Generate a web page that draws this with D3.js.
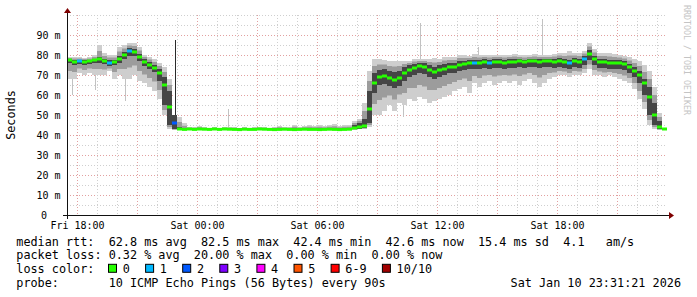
<!DOCTYPE html>
<html>
<head>
<meta charset="utf-8">
<script src="https://cdn.jsdelivr.net/npm/d3@7"></script>
<style>
  body { margin: 0; background: #fff; }
  text { font-family: "DejaVu Sans Mono", monospace; white-space: pre; }
</style>
</head>
<body>
<svg id="chart" width="697" height="297"></svg>
<script>
// median rtt per 15 min step (ms), from Fri 17:31 to Sat 23:31
var med = [77.5,76.5,77,76.5,77,77.5,78,77,76,76.5,
           78,80,82,81.5,79,76.5,75,73.5,71,65,
           54,46,43,42.8,43,42.8,43,42.9,42.8,43,
           42.8,43,42.9,42.8,42.7,42.9,42.8,42.8,43,42.9,
           42.8,42.7,42.8,42.9,42.8,42.7,42.8,42.9,42.8,42.8,
           42.7,42.8,42.9,42.8,42.7,42.8,42.9,43.5,44,44.5,
           53,66,69,69.5,68.5,67.5,68.5,71,72.5,73.5,
           74.5,74,72.5,71.5,72.5,73,74,74,75,75.5,
           76,76,76,76.5,76,76.5,76.5,76,76.5,76.5,
           77,76.5,77,77,76.5,77,77,76.5,77,76.5,
           76,77,76.5,78,80.5,78,76.5,76.5,76,76,
           76,75.5,74,72,70,66,59,50,44,43];

// smoke: slowest / fastest ping per step
var hi = [79,79,79,78.5,79,80,85,81,80,80,
          84,85,86,86,84,80,79,78,76,74,
          68,48,49,46,44,44,44.5,44,43.5,44,
          43.5,44,44,44,43.5,44,43.5,44,44,44,
          43.5,44,44.5,44,44,45,44,44.5,45,44.5,
          45,44.5,45,45.5,44.5,45,45,47,48,56,
          72,78,78,77.5,77,77,77,77,77,78,
          78,78,78,78.5,78,79,79,79,80,80,
          79.5,80.5,80,80,80,80,80,80,80,80.5,
          80,80,80,80.5,80,80,80,80.5,81,81,
          82,81,81,82,86,83,81,81,81,80.5,
          80,79.5,79,78,77,75,72,64,51,43.5];
var lo = [68,68,71,70,71,70,70,70,72,68,
          70,68,68,70,67,66,64,62,58,50,
          43,42.5,42.5,42.5,42.5,42.5,42.5,42.5,42.5,42.5,
          42.5,42.5,42.5,42.5,42.5,42.5,42.5,42.5,42.5,42.5,
          42.5,42.5,42.5,42.5,42.5,42.5,42.5,42.5,42.5,42.5,
          42.5,42.5,42.5,42.5,42.5,42.5,42.5,42.5,43,43,
          44,50,50,52,55,52,56,55,58,57,
          59,58,56,57,58,59,60,62,63,64,
          61,66,64,66,67,65,66,67,66,67,
          65,67,68,66,64,66,68,69,70,70,
          69,70,70,71,73,70,70,69,70,69,
          68,67,66,63,58,53,45,43,42.5,42.5];

// dense core of the smoke
var coreHi = [78,77.5,77.5,77.5,77.5,78,79,78,77.5,77.5,
              79.5,81.5,83.5,83,80.5,78,76.5,75,73,69,
              62,50,44,43.2,43.2,43.2,43.3,43.2,43.2,43.2,
              43.2,43.3,43.2,43.2,43.2,43.3,43.2,43.2,43.3,43.2,
              43.2,43.2,43.3,43.2,43.2,43.2,43.3,43.2,43.2,43.3,
              43.2,43.2,43.3,43.2,43.2,43.2,43.3,45,46,48,
              62,71,72.5,73,72,71.5,72,74,75,75.5,
              76,76,75,74,75,75.5,76,76,77,77,
              77.5,77.5,77.5,78,77.5,78,78,77.5,78,78,
              78,77.5,78,78,78,78,78,78,78.5,78,
              77.5,78.5,78,79.5,82.5,79.5,78,78,77.5,77.5,
              77.5,77,75.5,74,72,68,64,56,47,43.3];
var coreLo = [76,75,75.5,75,75.5,76,76,75.5,74.5,75,
              76,78,79.5,79.5,77,74.5,73,71.5,67,55,
              45,43,42.6,42.6,42.6,42.6,42.6,42.6,42.6,42.6,
              42.6,42.6,42.6,42.6,42.6,42.6,42.6,42.6,42.6,42.6,
              42.6,42.6,42.6,42.6,42.6,42.6,42.6,42.6,42.6,42.6,
              42.6,42.6,42.6,42.6,42.6,42.6,42.6,43,43,43.5,
              46,61,65,65.5,64.5,63.5,64.5,67,69,70,
              71,70.5,69,68,69,70,71,71,72,72.5,
              73,73,73,73.5,73,73.5,73.5,73,73.5,73.5,
              74,73.5,74,74,73.5,74,74,73.5,74,73.5,
              73,74,73.5,75,77.5,75,73.5,73.5,73,73,
              73,72.5,71,69,66,60,50,45,43,42.6];

// lost pings (of 10) per step
var loss = [0,0,1,0,0,0,0,0,1,0,
            0,0,1,0,0,0,0,0,0,0,
            0,2,0,0,0,0,0,0,0,0,
            0,0,0,0,0,0,0,0,0,0,
            0,0,0,0,0,0,0,0,0,0,
            0,0,0,0,0,0,0,0,0,0,
            0,0,0,0,0,0,0,0,0,0,
            0,0,0,0,0,0,0,0,0,0,
            0,1,0,0,1,0,0,0,0,0,
            0,0,0,0,0,0,0,0,0,0,
            1,0,0,1,0,0,0,0,0,0,
            0,0,0,0,0,0,0,0,0,0];

// single outlier pings
var outlierTimes = ["2026-01-09T17:46","2026-01-09T18:55","2026-01-09T20:25","2026-01-10T01:34",
                    "2026-01-10T10:19","2026-01-10T11:10","2026-01-10T14:04","2026-01-10T17:17"];
var outlierVals = [60, 62.5, 57, 53, 49, 96, 84, 98];
var darkTimes = ["2026-01-09T22:56"];
var darkVals = [87.5];

var lossLabels = ["0","1","2","3","4","5","6-9","10/10"];
var lossColors = ["#26ff00","#00b8ff","#0059ff","#7e00ff","#ff00ff","#ff5500","#ff0000","#a10000"];

var legendLines = [
    "median rtt:  62.8 ms avg  82.5 ms max  42.4 ms min  42.6 ms now  15.4 ms sd  4.1   am/s",
    "packet loss: 0.32 % avg  20.00 % max  0.00 % min  0.00 % now",
    "loss color:",
    "probe:       10 ICMP Echo Pings (56 Bytes) every 90s"
];
var stampText = "Sat Jan 10 23:31:21 2026";

var svg = d3.select("#chart");
var X0 = 67, X1 = 667, Y0 = 215, Y1 = 15;

var t0 = new Date(2026, 0, 9, 17, 31, 21);
var t1 = new Date(2026, 0, 10, 23, 31, 21);
var STEP = 15 * 60 * 1000;

var x = d3.scaleTime().domain([t0, t1]).range([X0, X1]);
var y = d3.scaleLinear().domain([0, 100]).range([Y0, Y1]);

var times = d3.range(med.length + 1).map(function(i) { return new Date(+t0 + i * STEP); });
var idx = d3.range(med.length);
var parse = d3.timeParse("%Y-%m-%dT%H:%M");

function lossIndex(n) { return n <= 5 ? n : (n < 10 ? 6 : 7); }

// grid
var grid = svg.append("g");
y.ticks(20).filter(function(v) { return v > 0; }).forEach(function(v) {
    var major = v % 10 === 0 && v < 100;
    grid.append("line")
        .attr("x1", X0).attr("x2", X1)
        .attr("y1", y(v) + 0.5).attr("y2", y(v) + 0.5)
        .attr("stroke", major ? "#e2a0a0" : "#cfcfcf")
        .attr("stroke-dasharray", "1,2");
});
x.ticks(d3.timeHour.every(1)).forEach(function(t) {
    var major = t.getHours() % 3 === 0;
    grid.append("line")
        .attr("x1", Math.round(x(t)) + 0.5).attr("x2", Math.round(x(t)) + 0.5)
        .attr("y1", Y1).attr("y2", Y0)
        .attr("stroke", major ? "#e2a0a0" : "#cfcfcf")
        .attr("stroke-dasharray", "1,2");
});

// outliers (thin lines under the smoke)
var spikes = svg.append("g");
function drawSpikes(ts, vs, color) {
    spikes.selectAll(null)
        .data(ts.map(function(s, i) { return { t: parse(s), v: vs[i] }; }))
        .enter()
        .append("line")
        .attr("x1", function(d) { return Math.round(x(d.t)) + 0.5; })
        .attr("x2", function(d) { return Math.round(x(d.t)) + 0.5; })
        .attr("y1", function(d) { return y(d.v); })
        .attr("y2", function(d) {
            var i = Math.min(med.length - 1, Math.floor((d.t - t0) / STEP));
            return y(med[i]);
        })
        .attr("stroke", color)
        .attr("stroke-width", 1);
}
drawSpikes(outlierTimes, outlierVals, "#c2c2c2");

// smoke bands
var smoke = svg.append("g");
function band(top, bottom, color) {
    smoke.selectAll(null)
        .data(idx)
        .enter()
        .append("rect")
        .attr("x", function(i) { return x(times[i]); })
        .attr("width", function(i) { return x(times[i + 1]) - x(times[i]); })
        .attr("y", function(i) { return y(top(i)); })
        .attr("height", function(i) { return Math.max(0.5, y(bottom(i)) - y(top(i))); })
        .attr("fill", color);
}
band(function(i) { return hi[i]; }, function(i) { return lo[i]; }, "#cecece");
band(function(i) { return (hi[i] + coreHi[i]) / 2; }, function(i) { return (lo[i] + coreLo[i]) / 2; }, "#9c9c9c");
band(function(i) { return coreHi[i]; }, function(i) { return coreLo[i]; }, "#454545");

drawSpikes(darkTimes, darkVals, "#2a2a2a");

// median, coloured by loss
svg.append("g").selectAll("rect")
    .data(idx)
    .enter()
    .append("rect")
    .attr("x", function(i) { return x(times[i]); })
    .attr("width", function(i) { return x(times[i + 1]) - x(times[i]); })
    .attr("y", function(i) { return y(med[i]) - 1.5; })
    .attr("height", 3)
    .attr("fill", function(i) { return lossColors[lossIndex(loss[i])]; });

// axes
var axis = svg.append("g");
axis.append("line").attr("x1", X0 - 4).attr("x2", X1 + 4).attr("y1", Y0 + 0.5).attr("y2", Y0 + 0.5)
    .attr("stroke", "#111");
axis.append("line").attr("x1", X0 + 0.5).attr("x2", X0 + 0.5).attr("y1", Y0 + 4).attr("y2", Y1 - 4)
    .attr("stroke", "#111");
axis.append("path")
    .attr("d", "M" + (X1 + 2) + "," + (Y0 - 3) + "L" + (X1 + 2) + "," + (Y0 + 4) + "L" + (X1 + 7) + "," + (Y0 + 0.5) + "Z")
    .attr("fill", "#7f0000");
axis.append("path")
    .attr("d", "M" + (X0 - 3) + "," + (Y1 - 2) + "L" + (X0 + 4) + "," + (Y1 - 2) + "L" + (X0 + 0.5) + "," + (Y1 - 7) + "Z")
    .attr("fill", "#7f0000");

// y labels
d3.range(0, 100, 10).forEach(function(v) {
    axis.append("text")
        .attr("x", v === 0 ? 47 : 60.5)
        .attr("y", y(v) + 3.8)
        .attr("text-anchor", "end")
        .attr("font-size", "10px")
        .text(v === 0 ? "0" : v + " m");
});

// x labels
var fmt = d3.timeFormat("%a %H:%M");
x.ticks(d3.timeHour.every(6)).forEach(function(t) {
    axis.append("text")
        .attr("x", Math.round(x(t)) + 0.5)
        .attr("y", 228.5)
        .attr("text-anchor", "middle")
        .attr("font-size", "10px")
        .text(fmt(t));
});

// titles
svg.append("text")
    .attr("transform", "translate(14.5," + ((Y0 + Y1) / 2) + ") rotate(-90)")
    .attr("text-anchor", "middle")
    .attr("font-size", "11.8px")
    .text("Seconds");
svg.append("text")
    .attr("transform", "translate(684,5) rotate(90)")
    .attr("font-size", "8.3px")
    .attr("fill", "#c4c4c4")
    .text("RRDTOOL / TOBI OETIKER");

// legend
var leg = svg.append("g").attr("font-size", "11.8px");
var L = [245.5, 259.2, 272.8, 286.5];
legendLines.forEach(function(str, i) {
    leg.append("text").attr("x", 16.3).attr("y", L[i]).text(str);
});

var bx = 108.5;
lossLabels.forEach(function(lbl, i) {
    leg.append("rect")
        .attr("x", bx).attr("y", L[2] - 8.5)
        .attr("width", 8).attr("height", 8)
        .attr("fill", lossColors[i])
        .attr("stroke", "#000");
    leg.append("text").attr("x", bx + 14.2).attr("y", L[2]).text(lbl);
    bx = bx + 14.2 + lbl.length * 7.1 + 15.8;
});

leg.append("text").attr("x", 681).attr("y", L[3]).attr("text-anchor", "end").text(stampText);
</script>
</body>
</html>
